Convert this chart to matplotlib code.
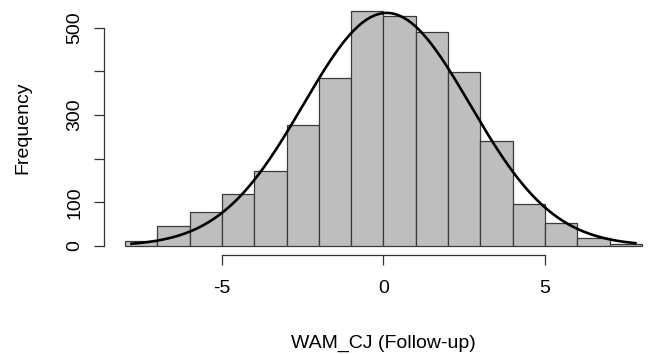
import numpy as np
import matplotlib
matplotlib.use('Agg')
import matplotlib.pyplot as plt

# Histogram data (bins of width 1 from -8 to 8)
bin_edges = [-8, -7, -6, -5, -4, -3, -2, -1, 0, 1, 2, 3, 4, 5, 6, 7, 8]
counts = [12, 46, 78, 118, 172, 276, 385, 538, 527, 490, 398, 240, 96, 53, 18, 5]

# Normal curve parameters (estimated from the drawn curve)
curve_mean = 0.1
curve_sd = 2.58
curve_from = -7.8
curve_to = 7.8

y_ticks = [0, 100, 200, 300, 400, 500]
y_labels = ['0', '100', '', '300', '', '500']
x_ticks = [-5, 0, 5]
x_labels = ['-5', '0', '5']

plt.rcParams['font.family'] = ['Liberation Sans', 'DejaVu Sans']

fig = plt.figure(figsize=(6.48, 3.54), dpi=100)
ax = fig.add_axes([0.1611, 0.2788, 0.8614, 0.719])

# Bars
lefts = bin_edges[:-1]
ax.bar(lefts, counts, width=1, align='edge', color='#bebebe',
       edgecolor='#3a3a3a', linewidth=0.9)

# Normal density scaled to counts
n_total = sum(counts)
xs = np.linspace(curve_from, curve_to, 300)
ys = n_total * 1.0 / (curve_sd * np.sqrt(2 * np.pi)) * np.exp(-0.5 * ((xs - curve_mean) / curve_sd) ** 2)
ax.plot(xs, ys, color='black', linewidth=1.9)

# R-style axes
ax.set_xlim(-8.64, 8.64)
ax.set_ylim(-21.6, 561.6)
ax.spines['top'].set_visible(False)
ax.spines['right'].set_visible(False)
ax.spines['left'].set_bounds(0, 500)
ax.spines['bottom'].set_bounds(-5, 5)
for s in ['left', 'bottom']:
    ax.spines[s].set_color('#333333')
    ax.spines[s].set_linewidth(0.9)

ax.set_xticks(x_ticks)
ax.set_xticklabels(x_labels)
ax.set_yticks(y_ticks)
ax.set_yticklabels(y_labels, rotation=90, va='center')
ax.tick_params(axis='both', length=7, width=0.9, color='#333333', labelsize=14)
ax.tick_params(axis='x', pad=10.5)
ax.tick_params(axis='y', pad=8)

ax.set_xlabel('WAM_CJ (Follow-up)', fontsize=14, labelpad=27.5)
ax.set_ylabel('Frequency', fontsize=14, labelpad=25.5)

plt.savefig('out.png', dpi=100)
plt.close()
